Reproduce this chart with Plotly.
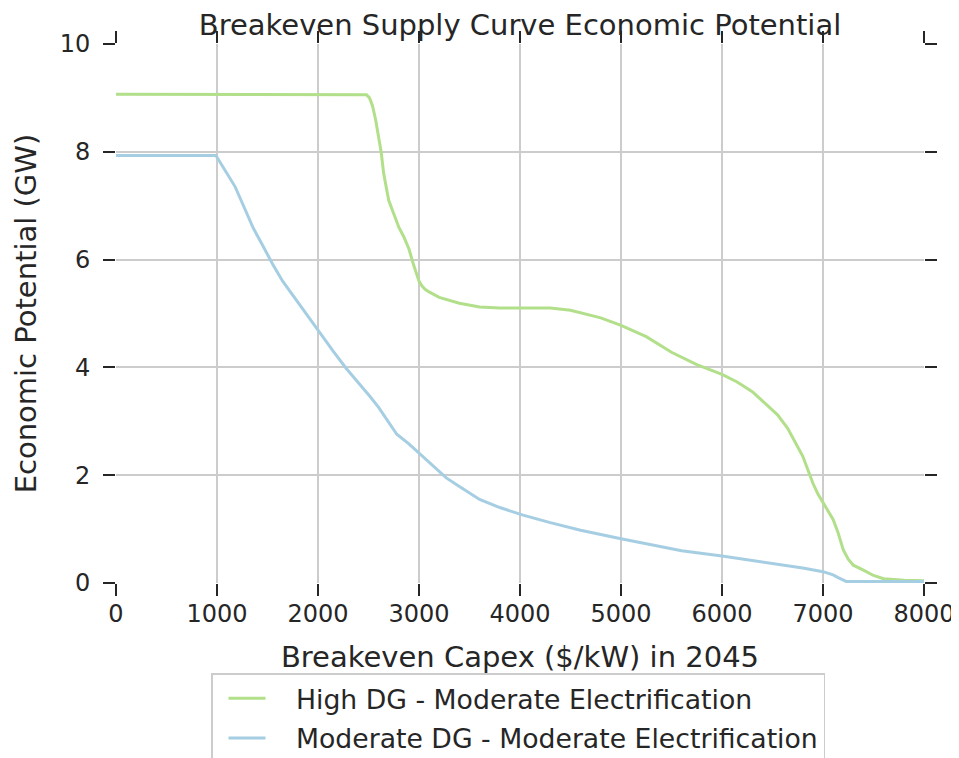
import plotly.graph_objects as go

# Data
high_dg_x = [0, 2450, 2480, 2510, 2540, 2570, 2600, 2625, 2650, 2700, 2750, 2800, 2850, 2900,
             2950, 2980, 3000, 3030, 3060, 3100, 3200, 3400, 3600, 3800, 4000, 4300, 4500,
             4600, 4800, 5000, 5250, 5500, 5750, 6000, 6150, 6300, 6450, 6550, 6650, 6800,
             6850, 6900, 6950, 7000, 7100, 7150, 7200, 7250, 7300, 7400, 7500, 7600, 7800,
             8000]
high_dg_y = [9.07, 9.07, 9.06, 9.0, 8.85, 8.6, 8.3, 8.0, 7.6, 7.1, 6.85, 6.6, 6.42, 6.2,
             5.88, 5.7, 5.6, 5.51, 5.45, 5.40, 5.30, 5.19, 5.12, 5.10, 5.10, 5.10, 5.06,
             5.01, 4.92, 4.78, 4.57, 4.28, 4.05, 3.87, 3.73, 3.55, 3.30, 3.12, 2.87, 2.35,
             2.10, 1.85, 1.65, 1.50, 1.18, 0.93, 0.62, 0.44, 0.33, 0.24, 0.14, 0.08, 0.05,
             0.04]

mod_dg_x = [0, 990, 1000, 1050, 1100, 1150, 1180, 1250, 1300, 1360, 1450, 1550, 1650, 1790,
            1900, 2020, 2150, 2280, 2400, 2515, 2600, 2700, 2780, 2900, 3020, 3150, 3270,
            3400, 3600, 3800, 4030, 4300, 4600, 5000, 5300, 5600, 6000, 6300, 6600, 6800,
            7000, 7100, 7150, 7200, 7230, 7500, 8000]
mod_dg_y = [7.93, 7.93, 7.90, 7.75, 7.6, 7.45, 7.35, 7.05, 6.85, 6.58, 6.27, 5.92, 5.6, 5.23,
            4.95, 4.62, 4.3, 3.98, 3.72, 3.46, 3.26, 2.97, 2.76, 2.58, 2.37, 2.15, 1.95,
            1.79, 1.55, 1.40, 1.26, 1.12, 0.98, 0.82, 0.71, 0.60, 0.50, 0.42, 0.34, 0.28,
            0.21, 0.15, 0.10, 0.05, 0.03, 0.03, 0.03]

series_names = ["High DG - Moderate Electrification", "Moderate DG - Moderate Electrification"]
x_ticks = [0, 1000, 2000, 3000, 4000, 5000, 6000, 7000, 8000]
y_ticks = [0, 2, 4, 6, 8, 10]

title_text = "Breakeven Supply Curve Economic Potential"
x_title = "Breakeven Capex ($/kW) in 2045"
y_title = "Economic Potential (GW)"

FONT = "DejaVu Sans"
TXT = "#262626"
GRID = "#cccccc"
PAD = "\u00a0\u00a0\u00a0"  # visual gap between legend handle and label

W, H = 951, 750  # page body has an 8px margin
fig = go.Figure()
fig.add_trace(go.Scatter(x=high_dg_x, y=high_dg_y, mode="lines", name=PAD + series_names[0],
                         legendgroup="a", line=dict(color="#b2df8a", width=3)))
fig.add_trace(go.Scatter(x=mod_dg_x, y=mod_dg_y, mode="lines", name=PAD + series_names[1],
                         legendgroup="b", line=dict(color="#a6cee3", width=3)))

axis_common = dict(
    showgrid=True, gridcolor=GRID, gridwidth=1.6, zeroline=False, showline=False,
    ticks="outside", ticklen=12, tickwidth=2, tickcolor=TXT, mirror="ticks",
    tickfont=dict(family=FONT, size=24, color=TXT),
)

L, R, T, B = 108, 35, 36, 175
plot_w = W - L - R
plot_h = H - T - B

fig.update_layout(
    width=W, height=H,
    margin=dict(l=L, r=R, t=T, b=B, autoexpand=False),
    paper_bgcolor="white", plot_bgcolor="white",
    font=dict(family=FONT, color=TXT),
    title=dict(text=title_text, x=0.5, xref="paper", xanchor="center",
               y=1 - 17 / H, yref="container", yanchor="middle",
               font=dict(family=FONT, size=29, color=TXT)),
    xaxis=dict(range=[0, 8000], tickvals=x_ticks, ticktext=[str(v) for v in x_ticks],
               title=dict(text=x_title, font=dict(family=FONT, size=29, color=TXT), standoff=19),
               ticklabelstandoff=-3, **axis_common),
    yaxis=dict(range=[0, 10], tickvals=y_ticks, ticktext=[str(v) for v in y_ticks],
               title=dict(text=y_title, font=dict(family=FONT, size=29, color=TXT), standoff=14),
               ticklabelstandoff=8, **axis_common),
    legend=dict(x=(203 - L) / plot_w, xanchor="left", y=-(665 - (T + plot_h)) / plot_h,
                yanchor="top", bgcolor="white", bordercolor="#cccccc", borderwidth=1.5,
                font=dict(family=FONT, size=26.7, color=TXT), itemwidth=37, indentation=11,
                traceorder="grouped", tracegroupgap=2),
    showlegend=True,
)

fig.write_html("out.html")
